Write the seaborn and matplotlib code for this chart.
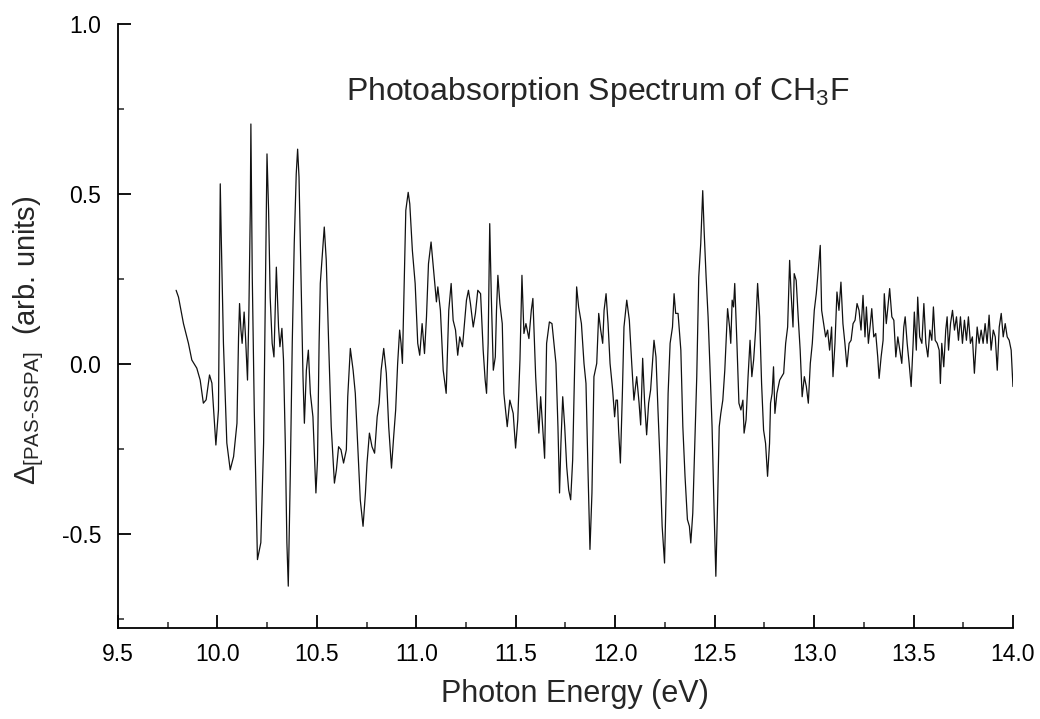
import matplotlib
matplotlib.use("Agg")
import matplotlib.pyplot as plt
from matplotlib.ticker import MultipleLocator
import seaborn as sns
import pandas as pd

energy_ev = [
    9.792, 9.804, 9.829, 9.854, 9.871, 9.896, 9.913, 9.929, 9.943, 9.960, 9.972, 9.992,
    10.005, 10.014, 10.019, 10.030, 10.047, 10.064, 10.081, 10.098, 10.106, 10.111, 10.118,
    10.124, 10.134, 10.141, 10.151, 10.158, 10.165, 10.168, 10.175, 10.185, 10.201, 10.218,
    10.232, 10.242, 10.249, 10.257, 10.265, 10.275, 10.284, 10.296, 10.307, 10.314, 10.324,
    10.332, 10.341, 10.349, 10.356, 10.366, 10.376, 10.386, 10.396, 10.403, 10.410, 10.420,
    10.430, 10.437, 10.447, 10.457, 10.467, 10.480, 10.495, 10.503, 10.511, 10.517,
    10.531, 10.537, 10.547, 10.559, 10.572, 10.588, 10.598, 10.609, 10.621, 10.634, 10.648,
    10.655, 10.668, 10.682, 10.693, 10.705, 10.718, 10.732, 10.744, 10.752, 10.764, 10.777,
    10.790, 10.803, 10.813, 10.823, 10.836, 10.849, 10.861, 10.875, 10.886, 10.896, 10.906,
    10.916, 10.923, 10.930, 10.936, 10.947, 10.959, 10.967, 10.980, 10.994, 11.007, 11.017,
    11.029, 11.041, 11.051, 11.061, 11.074, 11.088, 11.101, 11.108, 11.121, 11.135, 11.150,
    11.163, 11.175, 11.185, 11.197, 11.208, 11.218, 11.232, 11.242, 11.252, 11.262,
    11.272, 11.286, 11.297, 11.309, 11.323, 11.336, 11.346, 11.353, 11.361, 11.369, 11.377,
    11.387, 11.397, 11.403, 11.410, 11.420, 11.432, 11.440, 11.457, 11.470, 11.487, 11.499,
    11.510, 11.521, 11.528, 11.531, 11.541, 11.551, 11.566, 11.578, 11.586, 11.600, 11.608,
    11.616, 11.625, 11.635, 11.645, 11.655, 11.669, 11.682, 11.692, 11.702, 11.712, 11.720,
    11.727, 11.736, 11.746, 11.756, 11.766, 11.776, 11.786, 11.796, 11.806, 11.816, 11.830,
    11.843, 11.853, 11.863, 11.873, 11.883, 11.893, 11.907, 11.917, 11.927, 11.937, 11.944,
    11.954, 11.964, 11.974, 11.987, 11.997, 12.004, 12.011, 12.017, 12.026,
    12.036, 12.044, 12.058, 12.071, 12.083, 12.094, 12.108, 12.120, 12.128, 12.138, 12.148,
    12.158, 12.168, 12.178, 12.189, 12.195, 12.205, 12.215, 12.225, 12.236, 12.248, 12.256,
    12.266, 12.276, 12.288, 12.296, 12.304, 12.316, 12.330, 12.340, 12.351, 12.363, 12.373,
    12.380, 12.390, 12.400, 12.410, 12.420, 12.430, 12.440, 12.447, 12.457, 12.467, 12.477,
    12.487, 12.497, 12.506, 12.514, 12.523, 12.531, 12.541, 12.551, 12.565, 12.575, 12.581,
    12.588, 12.595, 12.601, 12.612, 12.622, 12.632, 12.642, 12.648, 12.658, 12.668, 12.678,
    12.687, 12.696, 12.706, 12.716, 12.726, 12.736, 12.746, 12.756, 12.766, 12.776, 12.781,
    12.789, 12.796, 12.803, 12.813, 12.827, 12.837, 12.847, 12.857, 12.867, 12.877, 12.884,
    12.894, 12.900, 12.910, 12.920, 12.930, 12.940, 12.951, 12.961, 12.971, 12.981, 12.991,
    13.001, 13.011, 13.021, 13.031, 13.038, 13.048, 13.058, 13.068, 13.078, 13.088, 13.095,
    13.105, 13.115, 13.125, 13.135, 13.145, 13.155, 13.165, 13.176, 13.186, 13.196, 13.206,
    13.216, 13.226, 13.236, 13.246, 13.256, 13.263, 13.273, 13.283, 13.290, 13.300, 13.310,
    13.320, 13.327, 13.337, 13.347, 13.353, 13.363, 13.373, 13.380, 13.391, 13.401, 13.411,
    13.421, 13.431, 13.441, 13.451, 13.458, 13.468, 13.478, 13.488, 13.498, 13.504, 13.514,
    13.521, 13.531, 13.542, 13.552, 13.562, 13.572, 13.582, 13.592, 13.600, 13.609, 13.619,
    13.629, 13.635, 13.642, 13.652, 13.662, 13.669, 13.676, 13.686, 13.696, 13.706, 13.716,
    13.726, 13.736, 13.746, 13.756, 13.766, 13.776, 13.786, 13.796, 13.806, 13.813, 13.820,
    13.830, 13.840, 13.850, 13.860, 13.870, 13.880, 13.890, 13.901, 13.911, 13.921, 13.931,
    13.941, 13.951, 13.961, 13.971, 13.981, 13.991, 14.000,
]

delta_pas_sspa = [
    0.217, 0.197, 0.119, 0.061, 0.012, -0.012, -0.047, -0.115, -0.105, -0.032, -0.056, -0.238,
    -0.135, 0.530, 0.373, 0.061, -0.232, -0.311, -0.272, -0.174, 0.080, 0.178, 0.100,
    0.061, 0.153, 0.080, -0.047, 0.158, 0.452, 0.706, 0.256, -0.135, -0.575, -0.525,
    -0.232, 0.256, 0.618, 0.452, 0.197, 0.061, 0.021, 0.285, 0.109, 0.051, 0.105,
    0.012, -0.232, -0.525, -0.653, -0.330, 0.061, 0.355, 0.559, 0.632, 0.550, 0.256,
    -0.037, -0.174, -0.018, 0.041, -0.086, -0.155, -0.379, -0.282, 0.061, 0.237,
    0.355, 0.403, 0.305, 0.061, -0.184, -0.350, -0.311, -0.243, -0.252, -0.291, -0.252,
    -0.096, 0.046, -0.018, -0.086, -0.233, -0.399, -0.477, -0.379, -0.291, -0.203, -0.243,
    -0.262, -0.155, -0.115, -0.018, 0.046, -0.027, -0.184, -0.306, -0.213, -0.135, 0.002,
    0.100, 0.061, 0.002, 0.158, 0.452, 0.505, 0.471, 0.334, 0.237, 0.061, 0.026,
    0.119, 0.031, 0.139, 0.295, 0.359, 0.266, 0.183, 0.227, 0.158, -0.018, -0.086,
    0.158, 0.237, 0.129, 0.100, 0.026, 0.080, 0.051, 0.119, 0.188, 0.217,
    0.178, 0.109, 0.149, 0.217, 0.207, 0.041, -0.047, -0.086, 0.061, 0.413, 0.197,
    -0.018, 0.021, 0.158, 0.261, 0.178, 0.119, -0.086, -0.184, -0.106, -0.145, -0.247,
    -0.164, 0.012, 0.178, 0.261, 0.090, 0.119, 0.075, 0.158, 0.193, -0.037, -0.125,
    -0.203, -0.096, -0.184, -0.277, 0.061, 0.124, 0.119, 0.061, 0.002, -0.184, -0.379,
    -0.233, -0.096, -0.184, -0.301, -0.370, -0.399, -0.282, -0.008, 0.227, 0.168, 0.119,
    0.002, -0.057, -0.311, -0.545, -0.379, -0.037, 0.002, 0.149, 0.100, 0.061, 0.158,
    0.207, 0.119, 0.002, -0.076, -0.155, -0.106, -0.106, -0.194, -0.291,
    -0.086, 0.109, 0.188, 0.129, 0.002, -0.106, -0.037, -0.115, -0.179, 0.017, -0.115,
    -0.208, -0.115, -0.076, 0.021, 0.070, 0.021, -0.135, -0.282, -0.477, -0.585, -0.379,
    -0.086, 0.061, 0.109, 0.207, 0.149, 0.149, 0.041, -0.184, -0.330, -0.457, -0.477,
    -0.526, -0.438, -0.233, -0.037, 0.256, 0.354, 0.510, 0.393, 0.256, 0.139, -0.018,
    -0.184, -0.428, -0.624, -0.428, -0.184, -0.145, -0.106, -0.018, 0.163, 0.109, 0.061,
    0.188, 0.168, 0.237, 0.061, -0.115, -0.135, -0.106, -0.203, -0.164, -0.037, 0.070,
    -0.037, 0.012, 0.100, 0.237, 0.139, -0.057, -0.194, -0.233, -0.330, -0.233, -0.115,
    -0.086, -0.008, -0.145, -0.086, -0.047, -0.037, -0.027, 0.061, 0.109, 0.305, 0.212,
    0.109, 0.266, 0.246, 0.139, 0.041, -0.096, -0.037, -0.066, -0.115, 0.002, 0.061,
    0.158, 0.207, 0.276, 0.349, 0.158, 0.119, 0.080, 0.100, 0.041, 0.109, -0.037,
    0.061, 0.212, 0.158, 0.241, 0.119, 0.061, -0.008, 0.061, 0.070, 0.119, 0.129,
    0.178, 0.158, 0.100, 0.202, 0.080, 0.168, 0.061, 0.119, 0.163, 0.080, 0.090,
    0.021, -0.042, 0.021, 0.070, 0.207, 0.119, 0.178, 0.222, 0.139, 0.129, 0.021,
    0.080, 0.041, 0.002, 0.109, 0.139, 0.061, 0.002, -0.066, 0.061, 0.153, 0.041,
    0.197, 0.080, 0.061, 0.178, 0.061, 0.021, 0.100, 0.070, 0.168, 0.070, 0.061,
    0.041, -0.057, 0.061, -0.008, 0.100, 0.139, 0.041, 0.119, 0.158, 0.100, 0.139,
    0.070, 0.139, 0.061, 0.129, 0.070, 0.139, 0.061, 0.080, -0.027, 0.041, 0.109,
    0.061, 0.100, 0.061, 0.119, 0.061, 0.144, 0.041, 0.100, 0.080, -0.018, 0.109,
    0.149, 0.080, 0.119, 0.080, 0.070, 0.041, -0.066,
]

x_ticks = [9.5, 10.0, 10.5, 11.0, 11.5, 12.0, 12.5, 13.0, 13.5, 14.0]
y_ticks = [-0.5, 0.0, 0.5, 1.0]

title_text = "Photoabsorption Spectrum of CH$_3$F"
x_label = "Photon Energy (eV)"
y_label = r"$\Delta_{[\mathrm{PAS\text{-}SSPA}]}$  (arb. units)"

df = pd.DataFrame({"energy": energy_ev, "delta": delta_pas_sspa})

sns.set_style("ticks")
plt.rcParams["font.family"] = ["Liberation Sans", "DejaVu Sans"]
plt.rcParams["mathtext.fontset"] = "custom"
plt.rcParams["mathtext.rm"] = "Liberation Sans"
plt.rcParams["mathtext.it"] = "Liberation Sans:italic"
plt.rcParams["mathtext.bf"] = "Liberation Sans:bold"

fig = plt.figure(figsize=(10.4, 7.19), dpi=100)
ax = fig.add_axes([0.1135, 0.1266, 0.8605, 0.84])

sns.lineplot(data=df, x="energy", y="delta", ax=ax, color="#111111",
             linewidth=0.9, estimator=None, sort=False)

ax.set_xlim(9.5, 14.0)
ax.set_ylim(-0.776, 1.0)
ax.set_xticks(x_ticks)
ax.set_xticklabels([f"{t:.1f}" for t in x_ticks])
ax.set_yticks(y_ticks)
ax.set_yticklabels([f"{t:.1f}" for t in y_ticks])
ax.xaxis.set_minor_locator(MultipleLocator(0.25))
ax.yaxis.set_minor_locator(MultipleLocator(0.25))

ax.tick_params(which="major", direction="in", length=9.5, width=1.3,
               labelsize=16.5, colors="black")
ax.tick_params(axis="x", which="major", pad=11)
ax.tick_params(axis="y", which="major", pad=12)
ax.tick_params(which="minor", direction="in", length=4.5, width=1.1)

for side in ["top", "right"]:
    ax.spines[side].set_visible(False)
for side in ["left", "bottom"]:
    ax.spines[side].set_linewidth(1.3)
    ax.spines[side].set_color("black")

ax.set_xlabel(x_label, fontsize=22)
ax.xaxis.set_label_coords(0.51, -0.085)
ax.xaxis.label.set_va("top")
ax.set_ylabel(y_label, fontsize=21)
ax.yaxis.set_label_coords(-0.08, 0.477)

ax.text(0.536, 0.874, title_text, transform=ax.transAxes, ha="center",
        va="baseline", fontsize=23)

fig.savefig("out.png", dpi=100)
